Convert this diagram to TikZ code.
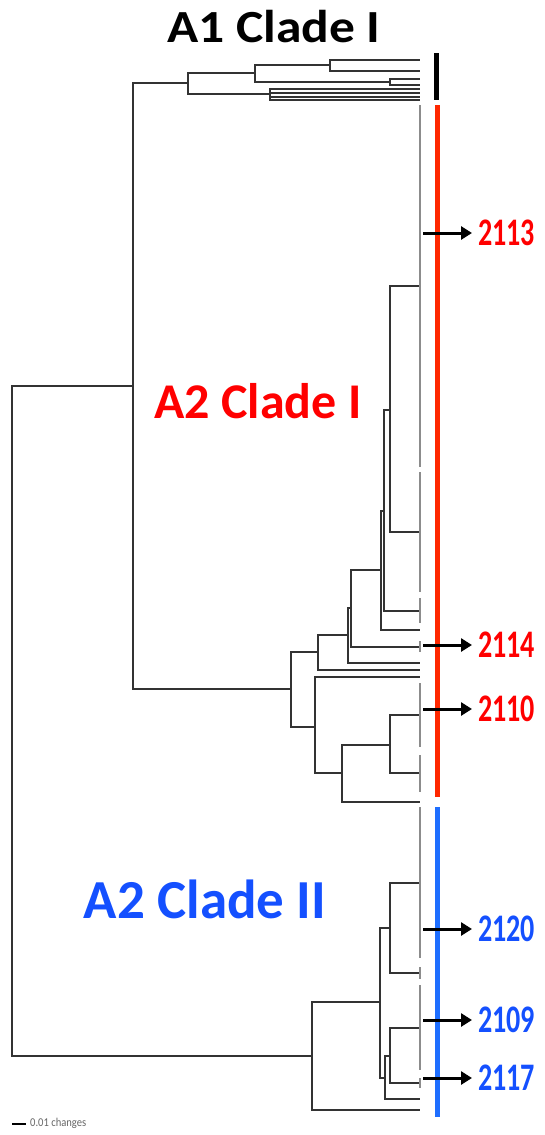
\documentclass[tikz,border=0pt]{standalone}
\usepackage{fontspec}
\setmainfont{Carlito}
\usetikzlibrary{arrows.meta}

\definecolor{cladered}{RGB}{255,0,0}
\definecolor{barred}{RGB}{255,40,0}
\definecolor{cladeblue}{RGB}{20,80,255}
\definecolor{barblue}{RGB}{30,110,255}

\begin{document}
\begin{tikzpicture}[
        x=1pt, y=-1pt,
        branch/.style={line width=1.7pt, black!80},
        tips/.style={line width=2pt, black!45},
        bar/.style={line width=5pt, #1},
        arr/.style={-{Triangle[length=11pt, width=13pt]}, line width=3pt, shorten >=6pt},
        num/.style={font=\bfseries\fontsize{39}{39}\selectfont, text=#1, anchor=west, inner sep=0pt},
        clade/.style={font=\bfseries\fontsize{#1}{#1}\selectfont, inner sep=0pt, anchor=base},
    ]
    \useasboundingbox (0,0) rectangle (545,1135);

    % Tree nodes
    \coordinate (r) at (12,721);
    \coordinate (a) at (133,386);
    \coordinate (a1) at (188,83);
    \coordinate (a1a) at (255,73);
    \coordinate (a1aa) at (330,65);
    \coordinate (a1ab) at (390,82);
    \coordinate (a1b) at (270,94);
    \coordinate (n1) at (291,689);
    \coordinate (n2) at (318,652);
    \coordinate (n3) at (348,635);
    \coordinate (n4) at (351,608);
    \coordinate (n5) at (381,570);
    \coordinate (n6) at (384,511);
    \coordinate (n7) at (390,410);
    \coordinate (n8) at (315,727);
    \coordinate (n9) at (342,773);
    \coordinate (n10) at (390,745);
    \coordinate (m0) at (312,1056);
    \coordinate (m1) at (380,1002);
    \coordinate (m2) at (390,928);
    \coordinate (m3) at (385,1078);
    \coordinate (m4) at (390,1056);

    % Branches
    \foreach \p/\c in {r/a, r/m0, a/a1, a/n1, a1/a1a, a1/a1b, a1a/a1aa, a1a/a1ab,
        n1/n2, n1/n8, n2/n3, n3/n4, n4/n5, n5/n6, n6/n7, n8/n9, n9/n10,
        m0/m1, m1/m2, m1/m3, m3/m4}
        \draw[branch] (\p) |- (\c);

    % Leaves
    \foreach \p/\y in {a1aa/60, a1aa/71, a1ab/79, a1ab/85, a1b/89, a1b/93, a1b/97, a1b/100,
        n7/286, n7/532, n6/611, n5/630, n4/647, n3/663, n2/670, n8/677,
        n10/715, n10/773, n9/802,
        m2/883, m2/973, m4/1028, m4/1083, m3/1099, m0/1110}
        \draw[branch] (\p) |- (420,\y);

    % Tip combs
    \foreach \t/\b in {105/467, 472/592, 598/623, 641/652, 683/747, 755/792,
        807/958, 967/979, 985/1070, 1078/1088}
        \draw[tips] (420,\t) -- (420,\b);

    % Clade bars
    \draw[bar=black, line width=4.5pt] (436.5,53) -- (436.5,100);
    \draw[bar=barred] (437.5,105) -- (437.5,797);
    \draw[bar=barblue] (437.5,807) -- (437.5,1117);

    % Clade labels
    \node[clade=46] (a1lbl) at (274,42) {\scalebox{1.12}[1]{A1 Clade I}};
    \node[clade=50, text=cladered] (a2ilbl) at (258,418) {A2 Clade I};
    \node[clade=55, text=cladeblue] (a2iilbl) at (205,918) {A2 Clade II};

    % Isolates
    \foreach \n/\y/\c in {2113/233/cladered, 2114/645/cladered, 2110/709/cladered,
        2120/929/cladeblue, 2109/1020/cladeblue, 2117/1078/cladeblue} {
        \coordinate (t\n) at (423,\y);
        \node[num=\c] (l\n) at (478,\y) {\scalebox{0.72}[1]{\n}};
        \draw[arr] (t\n) -- (l\n.west);
    }

    % Scale bar
    \coordinate (sb0) at (12,1124);
    \coordinate (sb1) at (26,1124);
    \draw[line width=2pt] (sb0) -- (sb1);
    \node[font=\fontsize{12}{12}\selectfont, text=black!60, anchor=west, inner sep=0pt] (sblbl) at (30,1123) {\scalebox{0.88}[1]{0.01 changes}};
\end{tikzpicture}
\end{document}
